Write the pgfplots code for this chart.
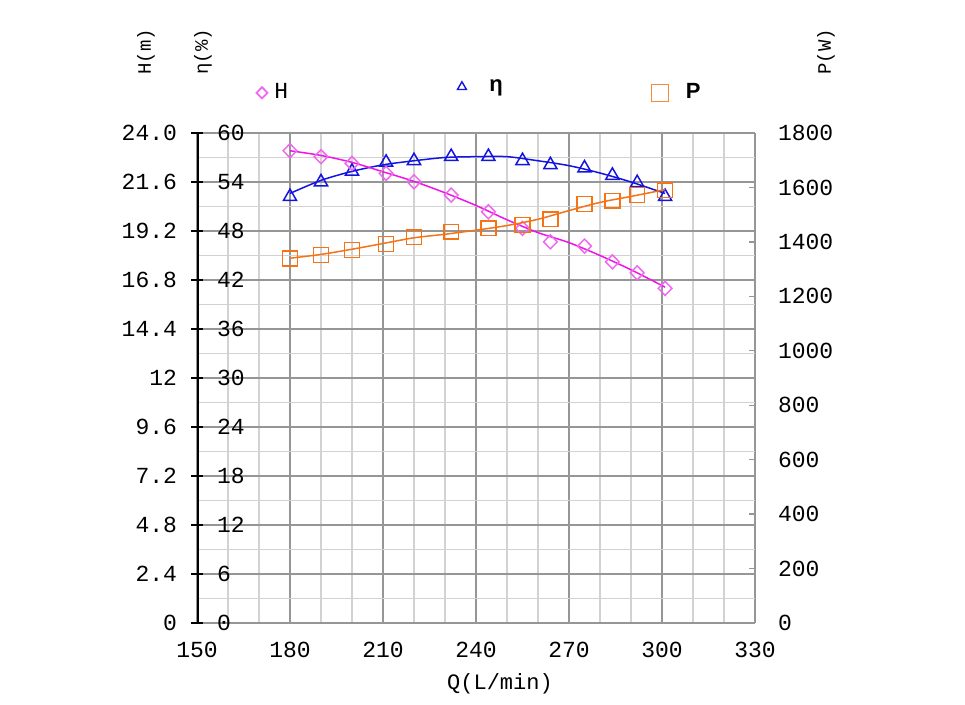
\documentclass[border=0pt]{standalone}
\usepackage{fontspec}
\setmainfont{Liberation Mono}
\newfontfamily\lsans{Liberation Sans}
\usepackage{pgfplots}
\usepackage{pgfplotstable}
\pgfplotsset{compat=1.18}

\definecolor{hline}{RGB}{240,20,230}
\definecolor{hmark}{RGB}{238,105,238}
\definecolor{eline}{RGB}{20,20,225}
\definecolor{pline}{RGB}{245,115,20}
\definecolor{majg}{RGB}{150,150,150}
\definecolor{ming}{RGB}{210,210,210}

\pgfplotstableread{
Q H eta P
180 23.13 52.2 1339
190 22.84 54.0 1352
200 22.51 55.3 1370
211 22.02 56.4 1392
220 21.61 56.6 1417
232 20.96 57.1 1437
244 20.14 57.1 1450
255 19.33 56.6 1462
264 18.67 56.1 1483
275 18.46 55.7 1539
284 17.69 54.8 1551
292 17.15 53.9 1572
301 16.39 52.2 1590
}\marks

\pgfplotstableread{
Q H eta P
180 23.13 52.6 1340
190 22.90 54.2 1354
200 22.56 55.3 1373
210 22.10 56.1 1394
220 21.63 56.6 1415
230 21.07 57.0 1428
240 20.45 57.1 1443
250 19.75 57.1 1460
260 19.12 56.6 1483
270 18.63 56.0 1515
280 18.00 55.1 1545
290 17.30 54.0 1567
301 16.45 52.6 1592
}\curves

\pgfplotsset{
  base/.style={
    at={(98.5pt,41pt)}, anchor=south west,
    width=279pt, height=245pt, scale only axis,
    xmin=150, xmax=330,
    /pgf/number format/assume math mode=true,
    /pgf/number format/1000 sep={},
    tick label style={font=\fontsize{11.5pt}{13pt}\selectfont},
    legend image code/.code={\draw[##1] plot coordinates {(3pt,0pt)};},
    legend style={draw=none, fill=none, inner sep=0pt, anchor=west,
      font=\fontsize{11.5pt}{13pt}\selectfont},
  },
}

\begin{document}
\begin{tikzpicture}
\path[use as bounding box] (0,0) rectangle (482.5pt,352.5pt);

% eta axis with grid
\begin{axis}[base,
  ymin=0, ymax=60,
  xtick={150,180,...,330},
  minor xtick={160,170,190,200,220,230,250,260,280,290,310,320},
  ytick={0,6,...,60}, minor ytick={3,9,...,57},
  grid=both,
  major grid style={majg, line width=0.9pt},
  minor grid style={ming, line width=0.9pt},
  axis line style={draw=none},
  xtick style={draw=none},
  minor tick length=0pt,
  ytick pos=left, tick align=center, major tick length=6pt,
  ytick style={black, line width=1.2pt},
  yticklabel style={anchor=west, xshift=9.5pt},
  xticklabel style={yshift=-3pt},
  legend style={at={(0.466,1.094)}},
]
\addlegendimage{mark=triangle, eline, mark size=2.6pt, line width=0.7pt}
\addlegendentry{\hspace{9.5pt}\lsans\bfseries\fontsize{11pt}{12pt}\selectfont η}
\addplot[eline, line width=0.75pt, smooth, forget plot] table[x=Q, y=eta] {\curves};
\addplot[eline, only marks, mark=triangle, mark size=3.8pt, line width=0.75pt, forget plot] table[x=Q, y=eta] {\marks};
\draw[black, line width=1.5pt] (rel axis cs:0,0) -- (rel axis cs:0,1);
\end{axis}

% H axis
\begin{axis}[base,
  ymin=0, ymax=24,
  xtick=\empty,
  ytick={0,2.4,4.8,7.2,9.6,12,14.4,16.8,19.2,21.6,24},
  yticklabels={0,2.4,4.8,7.2,9.6,12,14.4,16.8,19.2,21.6,24.0},
  axis line style={draw=none},
  ytick pos=left, tick style={draw=none},
  yticklabel style={xshift=-6.5pt},
  legend style={at={(0.106,1.082)}},
]
\addlegendimage{mark=diamond, hmark, mark size=2.8pt, line width=0.9pt, mark options={xscale=1.3}}
\addlegendentry{\hspace{1.5pt}H}
\addplot[hline, line width=0.75pt, smooth, forget plot] table[x=Q, y=H] {\curves};
\addplot[hmark, only marks, mark=diamond, mark size=3.5pt, line width=0.75pt, mark options={xscale=1.3}, forget plot] table[x=Q, y=H] {\marks};
\end{axis}

% P axis
\begin{axis}[base,
  ymin=0, ymax=1800,
  xtick=\empty,
  ytick={0,200,...,1800},
  axis line style={draw=none},
  ytick pos=right, tick align=inside, major tick length=3pt,
  ytick style={majg, line width=0.7pt},
  yticklabel style={anchor=west, xshift=8pt},
  legend style={at={(0.814,1.082)}},
]
\addlegendimage{mark=square, pline!85, mark size=4.3pt, line width=0.6pt}
\addlegendentry{\hspace{6.5pt}\lsans\bfseries\fontsize{11pt}{12pt}\selectfont P}
\addplot[pline, line width=0.75pt, smooth, forget plot] table[x=Q, y=P] {\curves};
\addplot[pline, only marks, mark=square, mark size=3.7pt, line width=0.75pt, forget plot] table[x=Q, y=P] {\marks};
\end{axis}

\node[rotate=90, font=\fontsize{9.5pt}{11pt}\selectfont] at (73pt,326.5pt) {H(m)};
\node[rotate=90, font=\fontsize{9.5pt}{11pt}\selectfont] at (101.5pt,326.5pt) {η(\%)};
\node[rotate=90, font=\fontsize{9.5pt}{11pt}\selectfont] at (413pt,326.5pt) {P(W)};
\node[font=\fontsize{11pt}{13pt}\selectfont] at (250pt,10.5pt) {Q(L/min)};
\end{tikzpicture}
\end{document}
